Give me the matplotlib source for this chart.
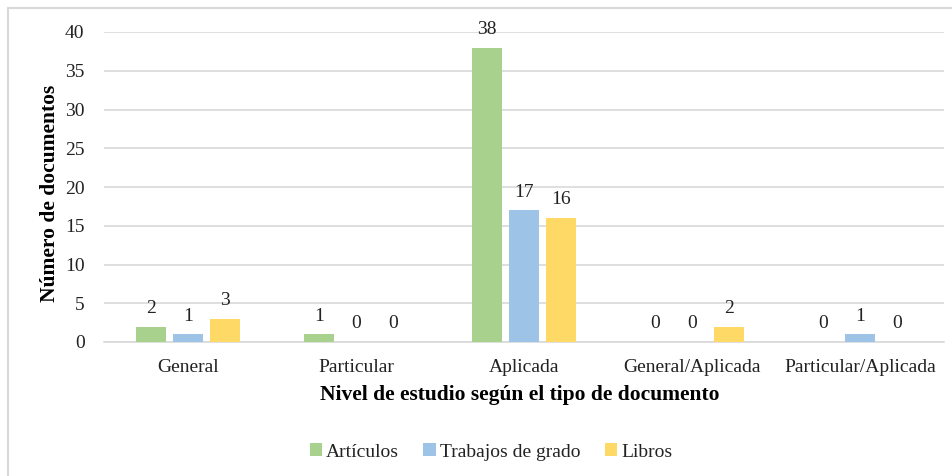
import numpy as np
import matplotlib
matplotlib.use("Agg")
import matplotlib.pyplot as plt
from matplotlib.patches import Rectangle

plt.rcParams['font.family'] = ['Liberation Serif', 'DejaVu Serif']

categorias = ['General', 'Particular', 'Aplicada', 'General/Aplicada', 'Particular/Aplicada']
articulos = [2, 1, 38, 0, 0]
trabajos = [1, 0, 17, 0, 1]
libros = [3, 0, 16, 2, 0]
series = ['Artículos', 'Trabajos de grado', 'Libros']
colores = ['#A9D18E', '#9DC3E6', '#FFD966']

fig = plt.figure(figsize=(9.52, 4.76), dpi=100)
ax = fig.add_axes([104/952, 1 - 342/476, 840/952, 310/476])

x = np.arange(len(categorias))
w = 0.175
paso = 0.22
for i, (vals, nombre, c) in enumerate(zip([articulos, trabajos, libros], series, colores)):
    pos = x + (i - 1) * paso
    ax.bar(pos, vals, width=w, color=c, label=nombre, zorder=3)
    for xp, v in zip(pos, vals):
        ax.annotate(str(v), (xp, v), xytext=(0, 7), textcoords='offset points',
                    ha='center', va='bottom', fontsize=14, color='#222222')

ax.set_xlim(-0.5, len(categorias) - 0.5)
ax.set_ylim(0, 40)
ax.set_yticks(range(0, 41, 5))
ax.yaxis.grid(True, color='#D9D9D9', linewidth=1.2, zorder=0)
ax.set_axisbelow(True)
for s in ['top', 'right', 'left']:
    ax.spines[s].set_visible(False)
ax.spines['bottom'].set_color('#D9D9D9')
ax.spines['bottom'].set_linewidth(1.2)
ax.tick_params(axis='both', length=0, labelsize=14, colors='#222222')
ax.tick_params(axis='x', pad=12)
ax.tick_params(axis='y', pad=14)
ax.set_xticks(x)
ax.set_xticklabels(categorias)

fig.text(520/952, 1 - 395/476, 'Nivel de estudio según el tipo de documento',
         ha='center', va='center', fontsize=15.5, fontweight='bold')
fig.text(50/952, 1 - 193/476, 'Número de documentos', rotation=90,
         ha='center', va='center', fontsize=15.5, fontweight='bold')

leg = fig.legend(loc='center', bbox_to_anchor=(491/952, 1 - 452/476), ncol=3,
                 frameon=False, fontsize=14, handlelength=0.65, handleheight=0.65,
                 handletextpad=0.2, columnspacing=1.25)
for t in leg.get_texts():
    t.set_color('#222222')

fig.patches.append(Rectangle((8/952, -0.1), 1.2, 1 - 8/476 + 0.1, transform=fig.transFigure,
                             fill=False, edgecolor='#D9D9D9', linewidth=1.5))

fig.savefig('out.png', dpi=100)
